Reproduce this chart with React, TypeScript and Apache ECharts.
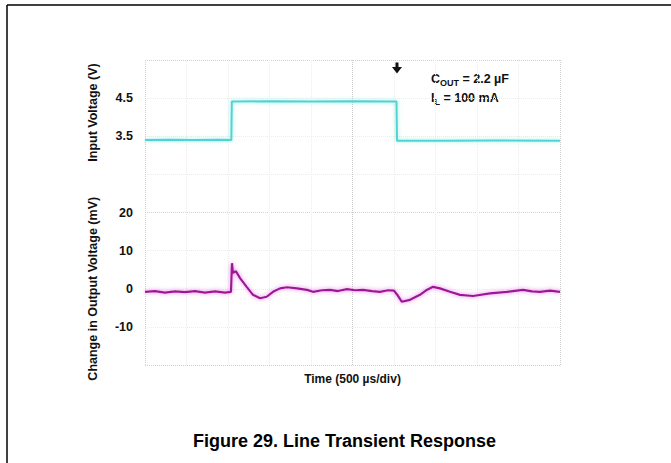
import React, { useEffect, useRef } from "react";
import * as echarts from "echarts";

// Input voltage trace (time in µs, volts)
const timeInput = [0, 300, 600, 900, 1040, 1046, 1500, 2000, 2500, 3030, 3036, 3600, 4200, 5000];
const inputVoltage = [3.40, 3.41, 3.40, 3.41, 3.40, 4.41, 4.42, 4.41, 4.42, 4.41, 3.38, 3.38, 3.39, 3.38];

// Change in output voltage trace (time in µs, mV)
const timeOutput = [
  0, 120, 241, 361, 482, 602, 723, 843, 964, 1036, 1048, 1060, 1096, 1145, 1225, 1301, 1386, 1466,
  1542, 1627, 1711, 1831, 1952, 2024, 2133, 2229, 2325, 2434, 2530, 2627, 2735, 2831, 2928, 3000,
  3036, 3093, 3193, 3313, 3394, 3470, 3554, 3675, 3795, 3952, 4157, 4361, 4554, 4663, 4759, 4880, 5000,
];
const outputDelta = [
  -0.8, -0.6, -1.0, -0.7, -0.9, -0.6, -1.0, -0.7, -1.0, -0.8, 6.7, 4.2, 4.6, 2.8, 0.5, -1.6, -2.5, -2.1,
  -0.8, 0.1, 0.4, 0.1, -0.3, -0.8, -0.4, -0.3, -0.6, -0.1, -0.4, -0.3, -0.6, -0.8, -0.4, -0.5,
  -1.5, -3.4, -2.9, -1.6, -0.3, 0.5, 0.1, -0.8, -1.6, -1.9, -1.2, -0.8, -0.3, -0.7, -0.8, -0.5, -0.8,
];

// Tick labels
const inputTicks = [3.5, 4.5];
const outputTicks = [-10, 0, 10, 20];

// Trigger marker time (µs)
const triggerTime = 3036;

const FONT = "'Liberation Sans', Arial, Helvetica, sans-serif";

export default function App() {
  const ref = useRef<HTMLDivElement>(null);

  useEffect(() => {
    if (!ref.current) return;
    const chart = echarts.init(ref.current, undefined, { renderer: "svg" });

    const xGridColors = ["#cfcfcf", "#ececec", "#ececec", "#ececec", "#ececec", "#c8c8c8", "#ececec", "#ececec", "#ececec", "#ececec"];
    const yGridColors = ["#cfcfcf", "#ececec", "#ececec", "#ececec", "#d4d4d4", "#ececec", "#ececec", "#ececec"];

    const labelStyle = { fontSize: 12.5, fontWeight: "bold", color: "#111", fontFamily: FONT };
    const nameStyle = { fontSize: 12.5, fontWeight: "bold", color: "#111", fontFamily: FONT };

    const annotationRich = {
      m: { fontSize: 12.5, fontWeight: "bold", fontFamily: FONT, fill: "#111", lineHeight: 17 },
      s: { fontSize: 9, fontWeight: "bold", fontFamily: FONT, fill: "#111", lineHeight: 17, verticalAlign: "bottom" },
    };

    chart.setOption({
      animation: false,
      backgroundColor: "#fff",
      title: {
        text: "Figure 29. Line Transient Response",
        left: 188,
        top: 427,
        textStyle: { fontSize: 18, fontWeight: "bold", color: "#000", fontFamily: FONT },
      },
      grid: [
        { left: 145, top: 60, width: 415, height: 305 },
        { left: 145, top: 60, width: 415, height: 105 },
        { left: 145, top: 212.5, width: 415, height: 152.5 },
      ],
      xAxis: [
        {
          gridIndex: 0, type: "value", min: 0, max: 10, interval: 1,
          axisLine: { show: false }, axisTick: { show: false }, axisLabel: { show: false },
          splitLine: { show: true, lineStyle: { type: "dotted", color: xGridColors, width: 1 } },
        },
        { gridIndex: 1, type: "value", min: 0, max: 5000, show: false },
        {
          gridIndex: 2, type: "value", min: 0, max: 5000,
          axisLine: { show: false }, axisTick: { show: false }, axisLabel: { show: false },
          splitLine: { show: false },
          name: "Time (500 µs/div)", nameLocation: "middle", nameGap: 8,
          nameTextStyle: { ...nameStyle, fontSize: 12 },
        },
      ],
      yAxis: [
        {
          gridIndex: 0, type: "value", min: 0, max: 8, interval: 1,
          axisLine: { show: false }, axisTick: { show: false }, axisLabel: { show: false },
          splitLine: { show: true, lineStyle: { type: "dotted", color: yGridColors, width: 1 } },
        },
        {
          gridIndex: 1, type: "value", min: 2.746, max: 5.5,
          axisLine: { show: false }, axisTick: { show: false }, splitLine: { show: false },
          axisLabel: { ...labelStyle, margin: 12, customValues: inputTicks },
          name: "Input Voltage (V)", nameLocation: "middle", nameGap: 46, nameRotate: 90,
          nameTextStyle: nameStyle,
        },
        {
          gridIndex: 2, type: "value", min: -20, max: 20, interval: 10,
          axisLine: { show: false }, axisTick: { show: false }, splitLine: { show: false },
          axisLabel: { ...labelStyle, margin: 12, customValues: outputTicks },
          name: "Change in Output Voltage (mV)", nameLocation: "middle", nameGap: 46, nameRotate: 90,
          nameTextStyle: nameStyle,
        },
      ],
      series: [
        {
          type: "line", xAxisIndex: 1, yAxisIndex: 1,
          data: timeInput.map((t, i) => [t, inputVoltage[i]]),
          showSymbol: false, silent: true,
          lineStyle: { color: "#4fd4d1", width: 2, shadowColor: "rgba(140,235,232,0.9)", shadowBlur: 4 },
          markPoint: {
            silent: true,
            symbol: "path://M2.8,0 H5.2 V5 H8 L4,12 L0,5 H2.8 Z",
            symbolSize: [10, 11],
            itemStyle: { color: "#111" },
            label: { show: false },
            data: [{ coord: [triggerTime, 5.29] }],
          },
        },
        {
          type: "line", xAxisIndex: 2, yAxisIndex: 2,
          data: timeOutput.map((t, i) => [t, outputDelta[i]]),
          showSymbol: false, silent: true,
          lineStyle: { color: "#9c1797", width: 2.2, shadowColor: "rgba(230,110,225,0.9)", shadowBlur: 4 },
        },
      ],
      graphic: [
        { type: "line", shape: { x1: 7, y1: 5, x2: 671, y2: 5 }, style: { stroke: "#000", lineWidth: 1.5 } },
        { type: "line", shape: { x1: 7, y1: 5, x2: 7, y2: 463 }, style: { stroke: "#000", lineWidth: 1.5 } },
        {
          type: "text", left: 431, top: 72,
          style: { text: "{m|C}{s|OUT}{m| = 2.2 µF}", rich: annotationRich },
        },
        {
          type: "text", left: 431, top: 91,
          style: { text: "{m|I}{s|L}{m| = 100 mA}", rich: annotationRich },
        },
      ],
    });

    return () => chart.dispose();
  }, []);

  return (
    <div
      ref={ref}
      style={{ position: "fixed", left: 0, top: 0, width: 671, height: 463 }}
    />
  );
}
